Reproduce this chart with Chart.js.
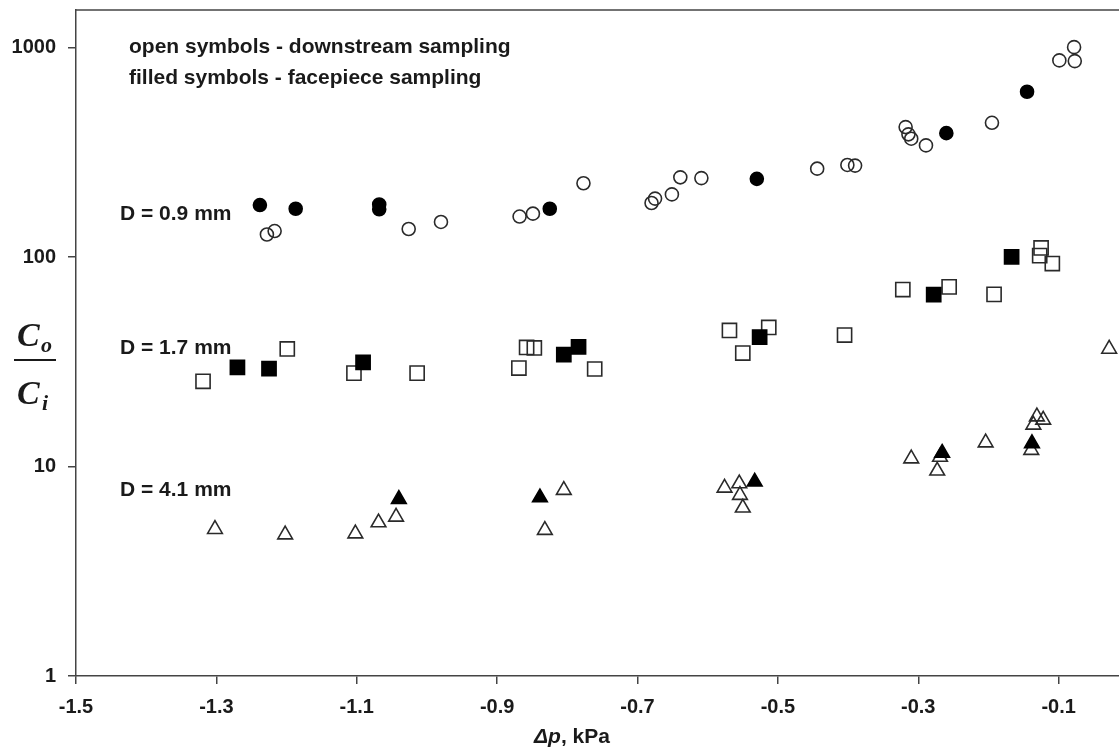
<!DOCTYPE html>
<html>
<head>
<meta charset="utf-8">
<script src="https://cdn.jsdelivr.net/npm/chart.js@4/dist/chart.umd.min.js"></script>
<style>
  html, body { margin: 0; padding: 0; background: #fff; }
  canvas { display: block; }
</style>
</head>
<body>
<canvas id="chart" width="1119" height="756"></canvas>
<script>
// D = 0.9 mm, circles
const circleOpenX = [-1.228, -1.217, -1.026, -0.980, -0.868, -0.849, -0.777, -0.680, -0.675, -0.651, -0.639, -0.609, -0.444, -0.401, -0.390, -0.318, -0.314, -0.310, -0.289, -0.195, -0.099, -0.078, -0.077]
const circleOpenY = [128, 133, 136, 147, 156, 161, 225, 181, 190, 199, 240, 238, 264, 275, 273, 417, 385, 367, 341, 437, 868, 1004, 861]
const circleFilledX = [-1.238, -1.187, -1.068, -1.068, -0.825, -0.530, -0.260, -0.145]
const circleFilledY = [177, 170, 178, 169, 170, 236, 390, 615]

// D = 1.7 mm, squares
const squareOpenX = [-1.319, -1.199, -1.104, -1.014, -0.869, -0.858, -0.847, -0.761, -0.569, -0.550, -0.513, -0.405, -0.322, -0.256, -0.192, -0.125, -0.127, -0.109]
const squareOpenY = [25.5, 36.4, 27.9, 27.9, 29.5, 37.0, 36.8, 29.2, 44.6, 34.8, 46.1, 42.4, 69.9, 72.0, 66.3, 110.5, 101.5, 93.0]
const squareFilledX = [-1.270, -1.225, -1.091, -0.805, -0.784, -0.526, -0.278, -0.167]
const squareFilledY = [29.7, 29.3, 31.4, 34.2, 37.2, 41.5, 66.1, 100.1]

// D = 4.1 mm, triangles
const triangleOpenX = [-1.302, -1.202, -1.102, -1.069, -1.044, -0.832, -0.805, -0.576, -0.555, -0.554, -0.550, -0.310, -0.269, -0.273, -0.204, -0.139, -0.136, -0.131, -0.122, -0.028]
const triangleOpenY = [5.02, 4.73, 4.78, 5.4, 5.75, 4.97, 7.71, 7.91, 8.29, 7.3, 6.35, 10.9, 11.1, 9.54, 13.0, 11.97, 15.8, 17.3, 16.7, 36.4]
const triangleFilledX = [-1.040, -0.839, -0.533, -0.266, -0.138]
const triangleFilledY = [6.98, 7.11, 8.45, 11.6, 12.9]

const xTickValues = [-1.5, -1.3, -1.1, -0.9, -0.7, -0.5, -0.3, -0.1]
const yTickValues = [1, 10, 100, 1000]
const noteLines = ['open symbols - downstream sampling', 'filled symbols - facepiece sampling']
const diameterLabels = ['D = 0.9 mm', 'D = 1.7 mm', 'D = 4.1 mm']

const FONT = '"Liberation Sans", Arial, sans-serif'
const INK = '#1a1a1a'

function points (xs, ys) {
  return xs.map((x, i) => ({ x: x, y: ys[i] }))
}

function series (label, xs, ys, style, filled, radius) {
  return {
    label: label,
    data: points(xs, ys),
    pointStyle: style,
    pointRadius: radius,
    pointHoverRadius: radius,
    pointBorderWidth: 1.6,
    pointBorderColor: filled ? '#000' : '#2a2a2a',
    pointBackgroundColor: filled ? '#000' : 'rgba(0,0,0,0)',
    showLine: false
  }
}

// texts that are not part of the axes
const decorations = {
  id: 'decorations',
  afterDraw (chart) {
    const ctx = chart.ctx
    const area = chart.chartArea
    ctx.save()
    // top frame line
    ctx.strokeStyle = '#444'
    ctx.lineWidth = 1.5
    ctx.beginPath()
    ctx.moveTo(area.left, area.top)
    ctx.lineTo(area.right, area.top)
    ctx.stroke()

    ctx.fillStyle = INK
    ctx.textBaseline = 'middle'
    ctx.textAlign = 'left'
    ctx.font = 'bold 21px ' + FONT
    ctx.fillText(noteLines[0], 129, 47)
    ctx.fillText(noteLines[1], 129, 78)

    const labelY = [214, 348, 490]
    diameterLabels.forEach((t, i) => ctx.fillText(t, 120, labelY[i]))

    // x axis title
    const a = 'Δp'
    const b = ', kPa'
    ctx.font = 'bold 21px ' + FONT
    const wb = ctx.measureText(b).width
    ctx.font = 'bold italic 21px ' + FONT
    const wa = ctx.measureText(a).width
    const x0 = 572 - (wa + wb) / 2
    ctx.fillText(a, x0, 737)
    ctx.font = 'bold 21px ' + FONT
    ctx.fillText(b, x0 + wa, 737)

    // y axis title, C_o over C_i
    const serif = '"Liberation Serif", "Times New Roman", serif'
    ctx.textBaseline = 'alphabetic'
    ctx.font = 'bold italic 34px ' + serif
    ctx.fillText('C', 17, 346)
    ctx.fillText('C', 17, 404)
    ctx.font = 'bold italic 22px ' + serif
    ctx.fillText('o', 41, 352)
    ctx.fillText('i', 42, 410)
    ctx.strokeStyle = INK
    ctx.lineWidth = 2
    ctx.beginPath()
    ctx.moveTo(14, 360)
    ctx.lineTo(56, 360)
    ctx.stroke()
    ctx.restore()
  }
}

const tickFont = { family: FONT, size: 20, weight: 'bold' }
const axisGrid = {
  drawOnChartArea: false,
  drawTicks: true,
  tickLength: 8,
  color: '#444',
  lineWidth: 1.5
}

const ctx = document.getElementById('chart')
const chart = new Chart(ctx, { // eslint-disable-line
  type: 'scatter',
  data: {
    datasets: [
      series('circle filled', circleFilledX, circleFilledY, 'circle', true, 6.5),
      series('square filled', squareFilledX, squareFilledY, 'rect', true, 10),
      series('triangle filled', triangleFilledX, triangleFilledY, 'triangle', true, 8.5),
      series('circle open', circleOpenX, circleOpenY, 'circle', false, 6.5),
      series('square open', squareOpenX, squareOpenY, 'rect', false, 10),
      series('triangle open', triangleOpenX, triangleOpenY, 'triangle', false, 8.5)
    ]
  },
  options: {
    responsive: false,
    devicePixelRatio: 1,
    animation: false,
    layout: {
      autoPadding: false,
      padding: { top: 10, right: 0, left: 0, bottom: 0 }
    },
    plugins: {
      legend: { display: false },
      tooltip: { enabled: false }
    },
    scales: {
      x: {
        type: 'linear',
        min: -1.5,
        max: -0.014,
        afterBuildTicks: (scale) => {
          scale.ticks = xTickValues.map(v => ({ value: v }))
        },
        afterFit: (scale) => {
          scale.height = 80
          scale.paddingLeft = 0
          scale.paddingRight = 0
        },
        ticks: {
          color: INK,
          font: tickFont,
          padding: 11,
          maxRotation: 0,
          callback: (v) => Number(v).toFixed(1)
        },
        grid: axisGrid,
        border: { display: true, color: '#444', width: 1.5 }
      },
      y: {
        type: 'logarithmic',
        min: 1,
        max: 1510,
        afterBuildTicks: (scale) => {
          scale.ticks = yTickValues.map(v => ({ value: v, major: true }))
        },
        afterFit: (scale) => {
          scale.width = 76
          scale.paddingTop = 0
          scale.paddingBottom = 0
        },
        ticks: {
          color: INK,
          font: tickFont,
          padding: 12,
          callback: (v) => String(v)
        },
        grid: axisGrid,
        border: { display: true, color: '#444', width: 1.5 }
      }
    }
  },
  plugins: [decorations]
})
</script>
</body>
</html>
